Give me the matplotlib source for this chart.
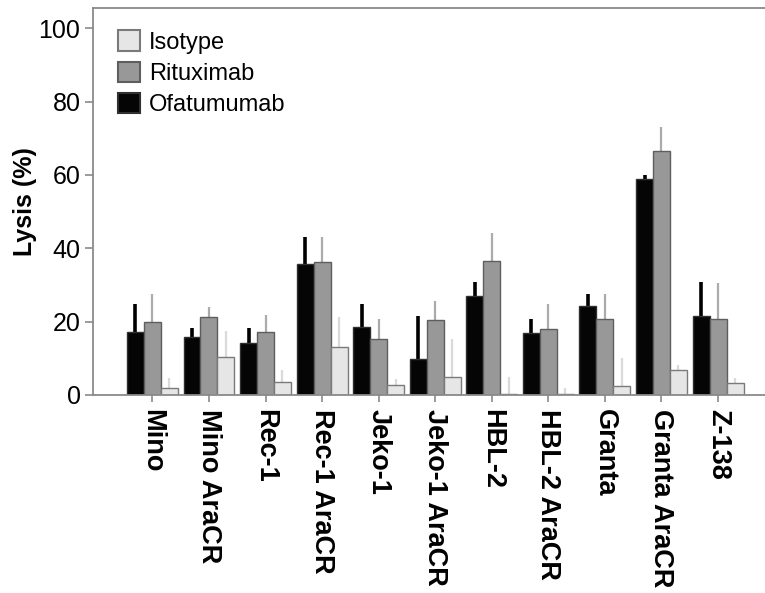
import matplotlib
matplotlib.use("Agg")
import matplotlib.pyplot as plt
import numpy as np

categories = ["Mino", "Mino AraCR", "Rec-1", "Rec-1 AraCR", "Jeko-1", "Jeko-1 AraCR",
              "HBL-2", "HBL-2 AraCR", "Granta", "Granta AraCR", "Z-138"]
ofatumumab = [17.3, 15.7, 14.3, 35.6, 18.6, 9.8, 27.1, 16.8, 24.3, 58.9, 21.6]
ofatumumab_err = [7.5, 2.5, 3.9, 7.6, 6.2, 11.7, 3.8, 3.8, 3.2, 1.1, 9.3]
rituximab = [20.0, 21.2, 17.1, 36.2, 15.3, 20.5, 36.6, 17.9, 20.6, 66.5, 20.6]
rituximab_err = [7.5, 2.9, 4.7, 6.8, 5.3, 5.0, 7.5, 6.9, 6.9, 6.5, 10.0]
isotype = [1.8, 10.3, 3.6, 13.2, 2.7, 5.0, 0.3, 0.3, 2.5, 6.8, 3.2]
isotype_err = [2.7, 7.2, 3.2, 8.0, 1.6, 10.2, 4.7, 1.5, 7.5, 1.4, 1.3]
yticks = [0, 20, 40, 60, 80, 100]

fig = plt.figure(figsize=(7.65, 5.93), dpi=100)
ax = fig.add_axes([93/765, 198/593, 1 - 93/765, 387/593])

x = np.arange(len(categories))
w = 0.3
spine_c = "#8a8a8a"

series = [
    (x - w, ofatumumab, ofatumumab_err, "#050505", "#303030", "#000000", 2.6, "Ofatumumab"),
    (x, rituximab, rituximab_err, "#989898", "#5e5e5e", "#ababab", 1.6, "Rituximab"),
    (x + w, isotype, isotype_err, "#e6e6e6", "#7a7a7a", "#dadada", 1.6, "Isotype"),
]
handles = {}
for xs, vals, errs, fc, ec, errc, elw, lab in series:
    b = ax.bar(xs, vals, width=w, color=fc, edgecolor=ec, linewidth=1.0, label=lab, zorder=2)
    handles[lab] = b
    ax.errorbar(xs, vals, yerr=[np.zeros(len(vals)), errs], fmt="none",
                ecolor=errc, elinewidth=elw, capsize=0, zorder=1)

ax.set_xlim(-1.05, 10.83)
ax.set_ylim(0, 105.5)
ax.set_yticks(yticks)
ax.set_yticklabels([str(t) for t in yticks], fontsize=18, family="Liberation Sans")
ax.set_xticks(x)
ax.set_xticklabels(categories, rotation=270, fontsize=19.5, family="Liberation Sans",
                   fontweight="bold", va="top", ha="center")
ax.tick_params(axis="y", length=6, width=1.2, color=spine_c, pad=3)
ax.tick_params(axis="x", length=5, width=1.2, color=spine_c, pad=5)

for s in ["left", "bottom", "top"]:
    ax.spines[s].set_color(spine_c)
    ax.spines[s].set_linewidth(1.3)
ax.spines["right"].set_visible(False)

ax.set_ylabel("Lysis (%)", fontsize=18, fontweight="bold", family="Liberation Sans", labelpad=1)

leg = ax.legend([handles["Isotype"], handles["Rituximab"], handles["Ofatumumab"]],
                ["Isotype", "Rituximab", "Ofatumumab"],
                loc="upper left", bbox_to_anchor=(0.037, 0.942), frameon=False,
                prop={"family": "Liberation Sans", "size": 17},
                handlelength=0.95, handleheight=0.95, handletextpad=0.38,
                labelspacing=0.33, borderpad=0, borderaxespad=0)
for p in leg.get_patches():
    p.set_linewidth(1.5)

fig.savefig("out.png", dpi=100)
